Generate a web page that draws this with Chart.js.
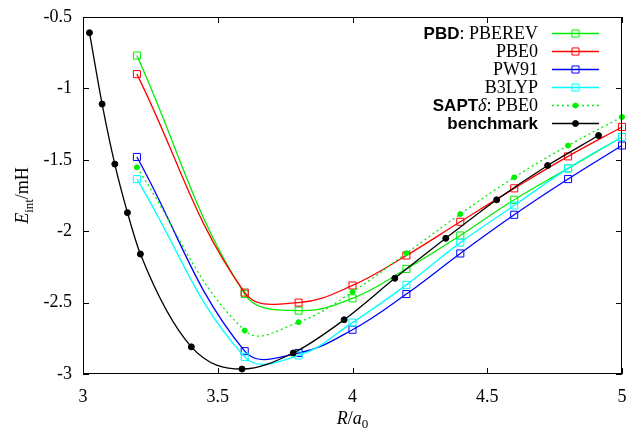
<!DOCTYPE html>
<html lang="en">
<head>
<meta charset="UTF-8">
<title>Interaction energy curves</title>
<style>
  body { margin: 0; background: #fff; }
  canvas { display: block; }
</style>
<script src="https://cdn.jsdelivr.net/npm/chart.js"></script>
</head>
<body>
<canvas id="chart" width="628" height="429"></canvas>
<script>
// separations in bohr, energies in mH
const rBench = [3.024, 3.071, 3.118, 3.165, 3.213, 3.402, 3.590, 3.780, 3.969, 4.157, 4.346, 4.535, 4.724, 4.913];
const eBench = [-0.61, -1.11, -1.53, -1.87, -2.16, -2.81, -2.965, -2.853, -2.62, -2.33, -2.05, -1.78, -1.54, -1.33];

const rDft = [3.2, 3.6, 3.8, 4.0, 4.2, 4.4, 4.6, 4.8, 5.0];
const ePbd = [-0.77, -2.44, -2.556, -2.47, -2.264, -2.03, -1.78, -1.56, -1.34];
const ePbe0 = [-0.90, -2.43, -2.50, -2.38, -2.17, -1.934, -1.70, -1.476, -1.27];
const ePw91 = [-1.48, -2.84, -2.853, -2.69, -2.44, -2.156, -1.885, -1.635, -1.40];
const eB3lyp = [-1.635, -2.88, -2.87, -2.64, -2.376, -2.08, -1.82, -1.56, -1.34];
const eSapt = [-1.553, -2.696, -2.637, -2.425, -2.154, -1.88, -1.623, -1.40, -1.20];

const xTicks = [3, 3.5, 4, 4.5, 5];
const yTicks = [-3, -2.5, -2, -1.5, -1, -0.5];

const SERIF = '"Liberation Serif", "Times New Roman", serif';
const SANS = '"Liberation Sans", Arial, sans-serif';
const F_REG = '18px ' + SERIF;
const F_IT = 'italic 18px ' + SERIF;
const F_SUB = '13px ' + SERIF;
const F_BOLD = 'bold 17px ' + SANS;

function pts(xs, ys) {
    return xs.map((x, i) => ({ x: x, y: ys[i] }));
}

function series(label, xs, ys, color, style, order) {
    return {
        label: label,
        data: pts(xs, ys),
        borderColor: color,
        backgroundColor: color,
        borderWidth: 1.3,
        pointStyle: style,
        pointRadius: style === 'rect' ? 5 : 3,
        pointBorderWidth: 1,
        pointBackgroundColor: style === 'rect' ? 'rgba(0,0,0,0)' : color,
        tension: 0.4,
        clip: false,
        order: order
    };
}

const datasets = [
    series('PBD: PBEREV', rDft, ePbd, '#00ee00', 'rect', 0),
    series('PBE0', rDft, ePbe0, '#ff0000', 'rect', -1),
    series('PW91', rDft, ePw91, '#0000ff', 'rect', -2),
    series('B3LYP', rDft, eB3lyp, '#00ffff', 'rect', -3),
    series('SAPTδ: PBE0', rDft, eSapt, '#00ee00', 'circle', -4),
    series('benchmark', rBench, eBench, '#000000', 'circle', -5)
];
datasets[4].borderDash = [2, 3];
datasets[4].pointRadius = 2.5;
datasets[5].cubicInterpolationMode = 'monotone';

// rich text pieces for the legend, same order as datasets
const legendText = [
    [['PBD', F_BOLD], [': PBEREV', F_REG]],
    [['PBE0', F_REG]],
    [['PW91', F_REG]],
    [['B3LYP', F_REG]],
    [['SAPT', F_BOLD], ['δ', F_IT], [': PBE0', F_REG]],
    [['benchmark', F_BOLD]]
];

function richWidth(ctx, parts) {
    let w = 0;
    parts.forEach(p => { ctx.font = p[1]; w += ctx.measureText(p[0]).width; });
    return w;
}

function drawRich(ctx, parts, x, y) {
    let cx = x;
    parts.forEach(p => {
        ctx.font = p[1];
        ctx.fillText(p[0], cx, y + (p[2] || 0));
        cx += ctx.measureText(p[0]).width;
    });
}

const framePlugin = {
    id: 'frame',
    afterDraw(chart) {
        const ctx = chart.ctx;
        const ca = chart.chartArea;
        const xs = chart.scales.x, ys = chart.scales.y;
        ctx.save();
        ctx.strokeStyle = '#000';
        ctx.lineWidth = 1;
        ctx.strokeRect(ca.left + 0.5, ca.top + 0.5, ca.right - ca.left - 1, ca.bottom - ca.top - 1);
        ctx.beginPath();
        xTicks.forEach(v => {
            const px = Math.round(xs.getPixelForValue(v)) + 0.5;
            ctx.moveTo(px, ca.bottom); ctx.lineTo(px, ca.bottom - 6);
            ctx.moveTo(px, ca.top); ctx.lineTo(px, ca.top + 6);
        });
        yTicks.forEach(v => {
            const py = Math.round(ys.getPixelForValue(v)) + 0.5;
            ctx.moveTo(ca.left, py); ctx.lineTo(ca.left + 6, py);
            ctx.moveTo(ca.right, py); ctx.lineTo(ca.right - 6, py);
        });
        ctx.stroke();

        // axis titles
        ctx.fillStyle = '#000';
        ctx.textBaseline = 'alphabetic';
        const xt = [['R', F_IT], ['/', F_REG], ['a', F_IT], ['0', F_SUB, 4]];
        drawRich(ctx, xt, (ca.left + ca.right) / 2 - richWidth(ctx, xt) / 2, 424);

        const yt = [['E', F_IT], ['int', F_SUB, 5], ['/mH', F_REG]];
        ctx.save();
        ctx.translate(28, (ca.top + ca.bottom) / 2);
        ctx.rotate(-Math.PI / 2);
        drawRich(ctx, yt, -richWidth(ctx, yt) / 2, 0);
        ctx.restore();

        // legend, text right aligned with sample on the right
        chart.data.datasets.forEach((ds, i) => {
            const y = 33 + i * 18;
            const parts = legendText[i];
            drawRich(ctx, parts, 538 - richWidth(ctx, parts), y + 6);
            ctx.strokeStyle = ds.borderColor;
            ctx.lineWidth = ds.borderWidth;
            ctx.setLineDash(ds.borderDash || []);
            ctx.beginPath();
            ctx.moveTo(552, y + 0.5); ctx.lineTo(599, y + 0.5);
            ctx.stroke();
            ctx.setLineDash([]);
            ctx.lineWidth = ds.pointBorderWidth;
            ctx.fillStyle = ds.pointBackgroundColor;
            Chart.helpers.drawPoint(ctx, {
                pointStyle: ds.pointStyle, radius: ds.pointRadius, rotation: 0, borderWidth: ds.pointBorderWidth
            }, 575.5, y + 0.5);
            ctx.fillStyle = '#000';
        });
        ctx.restore();
    }
};

new Chart(document.getElementById('chart').getContext('2d'), {
    type: 'line',
    data: { datasets: datasets },
    options: {
        responsive: false,
        animation: false,
        layout: { padding: { top: 17, right: 4, left: 0, bottom: 0 } },
        plugins: { legend: { display: false }, tooltip: { enabled: false } },
        scales: {
            x: {
                type: 'linear', min: 3, max: 5,
                afterBuildTicks: s => { s.ticks = xTicks.map(v => ({ value: v })); },
                afterFit: s => { s.height = 55; s.paddingLeft = 0; s.paddingRight = 0; },
                grid: { display: false, drawTicks: false },
                border: { display: false },
                ticks: { font: { family: SERIF, size: 18 }, color: '#000', padding: 12, maxRotation: 0, callback: v => String(v) }
            },
            y: {
                type: 'linear', min: -3, max: -0.5,
                afterBuildTicks: s => { s.ticks = yTicks.map(v => ({ value: v })); },
                afterFit: s => { s.width = 83; s.paddingTop = 0; s.paddingBottom = 0; },
                grid: { display: false, drawTicks: false },
                border: { display: false },
                ticks: { font: { family: SERIF, size: 18 }, color: '#000', padding: 11, callback: v => String(v) }
            }
        }
    },
    plugins: [framePlugin]
});
</script>
</body>
</html>
